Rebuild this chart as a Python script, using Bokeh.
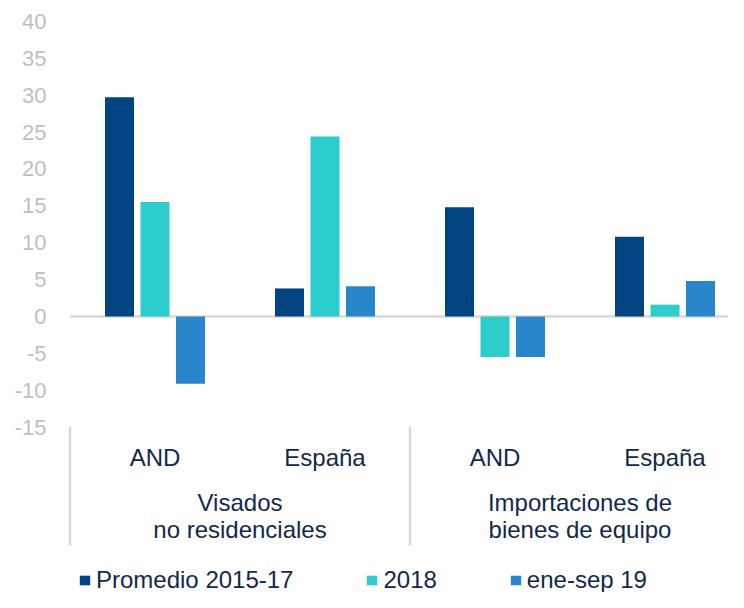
from bokeh.plotting import figure
from bokeh.models import ColumnDataSource, FixedTicker, Legend, LegendItem
from bokeh.core.properties import value
from bokeh.embed import file_html
from bokeh.resources import INLINE

# ---- data ----
categories = ["AND", "España", "AND", "España"]
groups = ["Visados\nno residenciales", "Importaciones de\nbienes de equipo"]
series = ["Promedio 2015-17", "2018", "ene-sep 19"]
promedio_2015_17 = [29.7, 3.8, 14.8, 10.8]
y2018 = [15.5, 24.4, -5.5, 1.6]
ene_sep_19 = [-9.1, 4.1, -5.5, 4.8]
y_ticks = [-15, -10, -5, 0, 5, 10, 15, 20, 25, 30, 35, 40]

# ---- style ----
colors = ["#004481", "#2DCCCD", "#2A86CA"]
text_color = "#10294D"
tick_color = "#BFBFBF"
grid_gray = "#D9D9D9"
FONT = "Liberation Sans"

W, H = 728, 592
px_per_unit = 7.38
zero_px = 316.0
cat_px = 170.0
frame_left = 66
x0_px = 69.5
y_top = zero_px / px_per_unit
y_bot = -(H - zero_px) / px_per_unit
x_start = -(x0_px - frame_left) / cat_px
x_end = x_start + (W - frame_left) / cat_px

p = figure(width=W, height=H,
           x_range=(x_start, x_end),
           y_range=(y_bot, y_top),
           output_backend="svg", toolbar_location=None,
           x_axis_location=None,
           min_border_left=frame_left, min_border_right=0,
           min_border_top=0, min_border_bottom=0)
p.grid.visible = False
p.outline_line_color = None
p.background_fill_color = "white"
p.border_fill_color = "white"

ax = p.yaxis[0]
ax.ticker = FixedTicker(ticks=y_ticks)
ax.major_label_overrides = {t: str(t) for t in y_ticks}
ax.axis_line_color = None
ax.major_tick_line_color = None
ax.minor_tick_line_color = None
ax.major_tick_out = 0
ax.major_tick_in = 0
ax.major_label_standoff = 20
ax.major_label_text_font = FONT
ax.major_label_text_font_size = "22px"
ax.major_label_text_color = tick_color

n = len(categories)
centers = [i + 0.5 for i in range(n)]

# zero line
p.segment(x0=[0], y0=[0], x1=[n], y1=[0], line_color=grid_gray, line_width=2.5)

bar_w = 29 / cat_px
offset = 35.5 / cat_px
renderers = []
for k, vals in enumerate([promedio_2015_17, y2018, ene_sep_19]):
    xs = [c + (k - 1) * offset for c in centers]
    src = ColumnDataSource(dict(x=xs, top=vals))
    r = p.vbar(x="x", top="top", bottom=0, width=bar_w, source=src,
               fill_color=colors[k], line_color=None)
    renderers.append(r)

# category labels
p.text(x=centers, y=[-19.11] * n, text=categories,
       text_font=value(FONT), text_font_size="24px", text_color=text_color,
       text_align="center", text_baseline="alphabetic")

# group labels
per_group = n // len(groups)
g_centers = [g * per_group + per_group / 2 for g in range(len(groups))]
line1 = [g.split("\n")[0] for g in groups]
line2 = [g.split("\n")[1] for g in groups]
p.text(x=g_centers, y=[-25.21] * len(groups), text=line1,
       text_font=value(FONT), text_font_size="24px", text_color=text_color,
       text_align="center", text_baseline="alphabetic")
p.text(x=g_centers, y=[-28.92] * len(groups), text=line2,
       text_font=value(FONT), text_font_size="24px", text_color=text_color,
       text_align="center", text_baseline="alphabetic")

# group separators
sep_x = [g * per_group for g in range(len(groups) + 1)]
p.segment(x0=sep_x, y0=[-14.9] * len(sep_x), x1=sep_x, y1=[-31.0] * len(sep_x),
          line_color=grid_gray, line_width=2.5)

legend = Legend(items=[LegendItem(label=series[k], renderers=[renderers[k]]) for k in range(3)],
                orientation="horizontal", location=(12, -2),
                glyph_width=13, glyph_height=12, label_standoff=5, spacing=72,
                padding=0, margin=0,
                label_text_font=FONT, label_text_font_size="24px",
                label_text_color=text_color,
                border_line_color=None, background_fill_alpha=0)
p.add_layout(legend)

open("out.html", "w").write(file_html(p, INLINE))
